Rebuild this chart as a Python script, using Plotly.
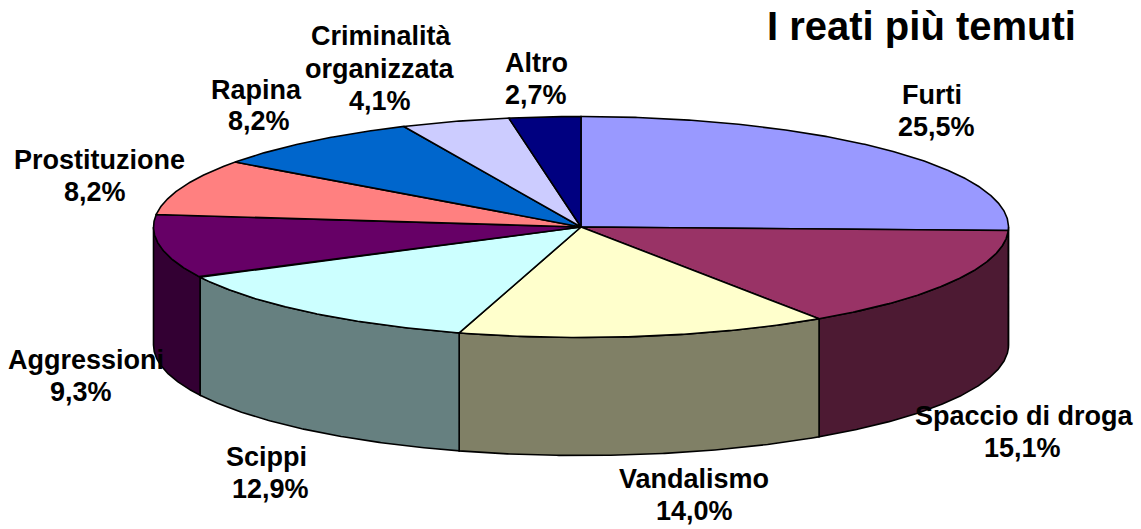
import numpy as np
import plotly.graph_objects as go

categories = ["Furti", "Spaccio di droga", "Vandalismo", "Scippi", "Aggressioni",
              "Prostituzione", "Rapina", "Criminalità<br>organizzata", "Altro"]
values = [25.5, 15.1, 14.0, 12.9, 9.3, 8.2, 8.2, 4.1, 2.7]
value_labels = ["25,5%", "15,1%", "14,0%", "12,9%", "9,3%", "8,2%", "8,2%", "4,1%", "2,7%"]
title_text = "I reati più temuti"

top_colors = ["#9999FF", "#993366", "#FFFFCC", "#CCFFFF", "#660066",
              "#FF8080", "#0066CC", "#CCCCFF", "#000080"]
side_colors = ["#4D4D80", "#4D1A33", "#808066", "#668080", "#330033",
               "#804040", "#003366", "#666680", "#000040"]
# centre of each text line, one (x, y) per line: name line(s), then value line
label_lines = [
    [(932, 95), (936, 127)],
    [(1024, 416), (1022, 448)],
    [(694, 479), (694, 511)],
    [(266, 457), (270, 489)],
    [(86, 360), (81, 392)],
    [(99, 160), (95, 192)],
    [(256, 90), (259, 121)],
    [(381, 36), (380, 69), (380, 101)],
    [(536, 63), (536, 95)],
]

W, H = 1141, 529
CX, CY, RX, RY, DEPTH = 581, 227, 427.5, 110.5, 118


def arc(a0, a1, dy=0.0):
    t = np.radians(np.linspace(a0, a1, max(2, int(abs(a1 - a0) * 3) + 2)))
    return CX + RX * np.sin(t), CY + dy - RY * np.cos(t)


fig = go.Figure()
edges = np.cumsum([0] + values) / sum(values) * 360
line = dict(color="black", width=1.6)

for i, color in enumerate(side_colors):
    a0, a1 = max(edges[i], 90), min(edges[i + 1], 270)
    if a1 <= a0:
        continue
    xt, yt = arc(a0, a1)
    xb, yb = arc(a1, a0, DEPTH)
    fig.add_trace(go.Scatter(
        x=np.r_[xt, xb, xt[0]], y=np.r_[yt, yb, yt[0]], mode="lines",
        fill="toself", fillcolor=color, line=line, hoverinfo="skip", showlegend=False))

for i, color in enumerate(top_colors):
    xt, yt = arc(edges[i], edges[i + 1])
    fig.add_trace(go.Scatter(
        x=np.r_[CX, xt, CX], y=np.r_[CY, yt, CY], mode="lines",
        fill="toself", fillcolor=color, line=line, name=categories[i],
        text=value_labels[i], hoverinfo="name+text", showlegend=False))

for name, val, centers in zip(categories, value_labels, label_lines):
    for text, (x, y) in zip(name.split("<br>") + [val], centers):
        fig.add_annotation(x=x, y=y, text=f"<b>{text}</b>", showarrow=False,
                           xanchor="center", yanchor="middle",
                           font=dict(family="Liberation Sans", size=27, color="black"))

fig.add_annotation(x=921, y=26, text=f"<b>{title_text}</b>", showarrow=False,
                   xanchor="center", yanchor="middle",
                   font=dict(family="Liberation Sans", size=40, color="black"))

fig.update_layout(
    width=W, height=H, margin=dict(l=0, r=0, t=0, b=0),
    paper_bgcolor="white", plot_bgcolor="white",
    xaxis=dict(range=[0, W], visible=False, fixedrange=True),
    yaxis=dict(range=[H, 0], visible=False, fixedrange=True),
)
fig.write_html("out.html", config=dict(displayModeBar=False),
               post_script="document.body.style.margin='0';document.body.style.overflow='hidden';")
